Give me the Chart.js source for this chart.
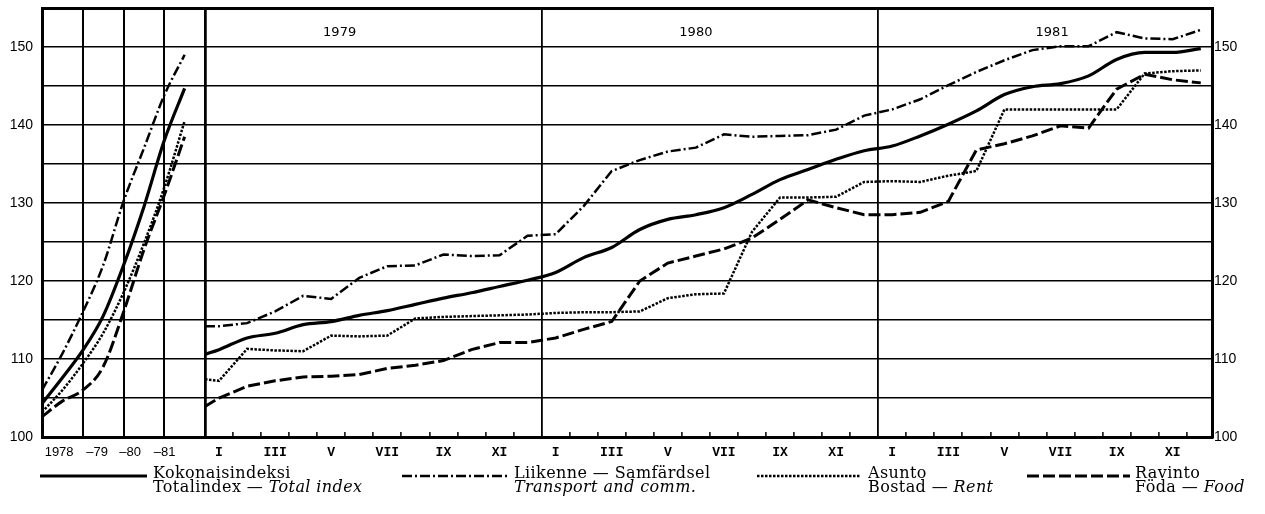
<!DOCTYPE html>
<html><head><meta charset="utf-8">
<script src="https://cdn.jsdelivr.net/npm/chart.js@4"></script>
<style>
html,body{margin:0;padding:0;background:#fff;}
#wrap{position:relative;width:1265px;height:514px;overflow:hidden;}
#c{position:absolute;left:0;top:0;}
#legsvg{position:absolute;left:0;top:0;}
.leg{position:absolute;font-family:"DejaVu Serif",serif;font-size:16px;line-height:14px;letter-spacing:0.4px;color:#000;white-space:nowrap;}
</style></head><body>
<div id="wrap">
<canvas id="c" width="1265" height="514"></canvas>
<svg id="legsvg" width="1265" height="514">
  <line x1="40" y1="476" x2="147" y2="476" stroke="#000" stroke-width="3"/>
  <line x1="402" y1="476" x2="508" y2="476" stroke="#000" stroke-width="2.5" stroke-dasharray="10 3 2 3"/>
  <line x1="757" y1="476" x2="860" y2="476" stroke="#000" stroke-width="2.5" stroke-dasharray="2.5 1.5"/>
  <line x1="1027" y1="476" x2="1130" y2="476" stroke="#000" stroke-width="3" stroke-dasharray="12 4"/>
</svg>
<div class="leg" style="left:153px;top:466px">Kokonaisindeksi<br>Totalindex — <i>Total index</i></div>
<div class="leg" style="left:514px;top:466px">Liikenne — Samfärdsel<br><i>Transport and comm.</i></div>
<div class="leg" style="left:868px;top:466px">Asunto<br>Bostad — <i>Rent</i></div>
<div class="leg" style="left:1135px;top:466px">Ravinto<br>Föda — <i>Food</i></div>
</div>
<script>
// ---- Data ----
// Left panel: annual overview 1978–1981 (x = year)
const leftYears = [1978, 1978.5, 1979, 1979.5, 1980, 1980.5, 1981, 1981.5];
const leftTotal     = [104.3, 107.6, 111.1, 115.5, 122.0, 129.5, 138.0, 144.7];
const leftTransport = [106.0, 110.7, 116.0, 122.0, 130.2, 137.0, 143.8, 149.0];
const leftRent      = [103.2, 106.0, 109.4, 113.3, 118.5, 124.8, 132.0, 140.5];
const leftFood      = [102.6, 104.6, 106.0, 109.0, 116.0, 124.0, 131.0, 138.5];
const leftYearLabels = ['1978', '–79', '–80', '–81'];

// Main panel: monthly 1979 I – 1981 XII (first value = start of 1979 at panel edge)
const monthTotal = [110.6,
  111.2,112.7,113.3,114.4,114.8,115.6,116.2,117.0,117.8,118.5,119.3,120.1,
  121.1,123.0,124.3,126.6,127.9,128.5,129.4,131.1,133.0,134.3,135.6,136.7,
  137.3,138.6,140.1,141.8,143.9,144.9,145.3,146.3,148.4,149.3,149.3,149.8];
const monthTransport = [114.2,
  114.2,114.6,116.1,118.1,117.7,120.4,121.9,122.0,123.4,123.2,123.3,125.8,
  126.0,129.6,134.1,135.5,136.6,137.1,138.8,138.5,138.6,138.7,139.4,141.2,
  142.0,143.3,145.1,146.8,148.3,149.6,150.1,150.1,151.9,151.1,151.0,152.2];
const monthRent = [107.4,
  107.2,111.3,111.1,111.0,113.0,112.9,113.0,115.2,115.4,115.5,115.6,115.7,
  115.9,116.0,116.0,116.1,117.8,118.3,118.4,126.3,130.7,130.7,130.8,132.7,
  132.8,132.7,133.5,134.1,142.0,142.0,142.0,142.0,142.0,146.6,146.9,147.0];
const monthFood = [103.9,
  105.0,106.5,107.2,107.7,107.8,108.0,108.8,109.2,109.8,111.2,112.1,112.1,
  112.7,113.8,114.8,120.0,122.3,123.2,124.1,125.5,127.9,130.4,129.4,128.5,
  128.5,128.8,130.2,136.8,137.6,138.6,139.9,139.6,144.6,146.5,145.8,145.4];
const monthLabels = ['I','','III','','V','','VII','','IX','','XI',''];
const years = ['1979','1980','1981'];
const yTicks = [100,105,110,115,120,125,130,135,140,145,150,155];
const yLabels = [100,110,120,130,140,150];

// ---- Build ----
const mainPts = arr => arr.map((v,i)=>({x: i===0 ? 0 : i-0.5, y: v}));
const leftPts = arr => arr.map((v,i)=>({x: leftYears[i], y: v}));

const styles = {
  total:     {borderWidth:3.2, borderDash:[]},
  transport: {borderWidth:2.5, borderDash:[10,3,2,3]},
  rent:      {borderWidth:2.5, borderDash:[2.5,1.5]},
  food:      {borderWidth:3,   borderDash:[12,4]}
};
function ds(label, pts, axis, st, smooth){
  return Object.assign({label, data:pts, xAxisID:axis, yAxisID:'y', borderColor:'#000',
    backgroundColor:'#000', pointRadius:0, fill:false, borderCapStyle:'butt',
    cubicInterpolationMode: smooth ? 'monotone' : 'default', tension: 0}, st);
}
const datasets = [
  ds('Ravinto', leftPts(leftFood), 'xl', styles.food, true),
  ds('Asunto', leftPts(leftRent), 'xl', styles.rent, true),
  ds('Liikenne', leftPts(leftTransport), 'xl', styles.transport, true),
  ds('Kokonaisindeksi', leftPts(leftTotal), 'xl', styles.total, true),
  ds('Ravinto', mainPts(monthFood), 'x', styles.food, false),
  ds('Asunto', mainPts(monthRent), 'x', styles.rent, false),
  ds('Liikenne', mainPts(monthTransport), 'x', styles.transport, false),
  ds('Kokonaisindeksi', mainPts(monthTotal), 'x', styles.total, true)
];

const yearTitles = {
  id:'yearTitles',
  afterDraw(chart){
    const c = chart.ctx, sx = chart.scales.x, top = chart.chartArea.top;
    const pos = [4.8, 17.5, 30.2];
    c.save();
    c.font = '13px "DejaVu Sans", sans-serif';
    c.fillStyle = '#000'; c.textAlign = 'center'; c.textBaseline = 'middle';
    years.forEach((t,i)=>c.fillText(t, sx.getPixelForValue(pos[i]), top + 25));
    c.restore();
  }
};

const leftLabelPos = [1978.42, 1979.35, 1980.16, 1981.01];
const monoFont = {family:'"Liberation Mono", "DejaVu Sans Mono", monospace', size:13, weight:'bold'};
const sansFont = {family:'"Liberation Sans", Arial, sans-serif', size:13};
const ySansFont = {family:'"Liberation Sans", Arial, sans-serif', size:14};
const noPadX = s => { s.height = 20; s.paddingLeft = 0; s.paddingRight = 0; };
const noPadY = w => s => { s.width = w; s.paddingTop = 0; s.paddingBottom = 0; };

new Chart(document.getElementById('c'), {
  type:'line',
  data:{datasets},
  plugins:[yearTitles],
  options:{
    responsive:false, animation:false, devicePixelRatio:1,
    layout:{padding:{top:8,left:0,right:0,bottom:57}},
    plugins:{legend:{display:false}, tooltip:{enabled:false}},
    scales:{
      xl:{
        type:'linear', position:'bottom', stack:'bottom', stackWeight:163, weight:0,
        min:1978, max:1982,
        afterBuildTicks(s){
          const t = [];
          leftLabelPos.forEach(v=>t.push({value:v}));
          [1979,1980,1981,1982].forEach(v=>t.push({value:v}));
          t.sort((a,b)=>a.value-b.value);
          s.ticks = t;
        },
        afterFit: noPadX,
        ticks:{autoSkip:false, maxRotation:0, padding:13, color:'#000', font:sansFont,
          callback(v){ const k = leftLabelPos.indexOf(v); return k>=0 ? leftYearLabels[k] : ''; }},
        grid:{drawOnChartArea:true, drawTicks:true, tickLength:-5,
          color(ctx){ return Number.isInteger(ctx.tick && ctx.tick.value) ? '#000' : 'transparent'; },
          lineWidth(ctx){ return ctx.tick && ctx.tick.value===1982 ? 2.5 : 2; },
          tickColor:'transparent'},
        border:{display:true, color:'#000', width:3}
      },
      x:{
        type:'linear', position:'bottom', stack:'bottom', stackWeight:1007, weight:0,
        min:0, max:35.9,
        afterBuildTicks(s){
          const t = [];
          for (let i=0;i<72;i++) t.push({value:i/2});
          s.ticks = t;
        },
        afterFit: noPadX,
        ticks:{autoSkip:false, maxRotation:0, padding:13, color:'#000', font:monoFont,
          callback(v){ return (v % 1 === 0.5) ? monthLabels[Math.floor(v) % 12] : ''; }},
        grid:{drawOnChartArea:true, drawTicks:true, tickLength:-5, tickWidth:1.5,
          color(ctx){ const v = ctx.tick && ctx.tick.value; return (v===0||v===12||v===24) ? '#000' : 'transparent'; },
          lineWidth(ctx){ const v = ctx.tick && ctx.tick.value; return v===0 ? 2.5 : 1.8; },
          tickColor(ctx){ const v = ctx.tick && ctx.tick.value; return (Number.isInteger(v) && v%12!==0) ? '#000' : 'transparent'; }},
        border:{display:true, color:'#000', width:3}
      },
      y:{
        type:'linear', position:'left', min:100, max:155,
        afterBuildTicks(s){ s.ticks = yTicks.map(v=>({value:v})); },
        afterFit: noPadY(42),
        ticks:{padding:9, color:'#000', font:ySansFont,
          callback(v){ return yLabels.includes(v) ? String(v) : ''; }},
        grid:{color:'#000', drawTicks:false,
          lineWidth(ctx){ return ctx.tick && ctx.tick.value===155 ? 3 : 1.4; }},
        border:{display:true, color:'#000', width:3}
      },
      y2:{
        type:'linear', position:'right', min:100, max:155,
        afterBuildTicks(s){ s.ticks = yTicks.map(v=>({value:v})); },
        afterFit: noPadY(53),
        ticks:{padding:2, color:'#000', font:ySansFont,
          callback(v){ return yLabels.includes(v) ? String(v) : ''; }},
        grid:{drawOnChartArea:false, drawTicks:false},
        border:{display:true, color:'#000', width:3}
      }
    }
  }
});
</script>
</body></html>
